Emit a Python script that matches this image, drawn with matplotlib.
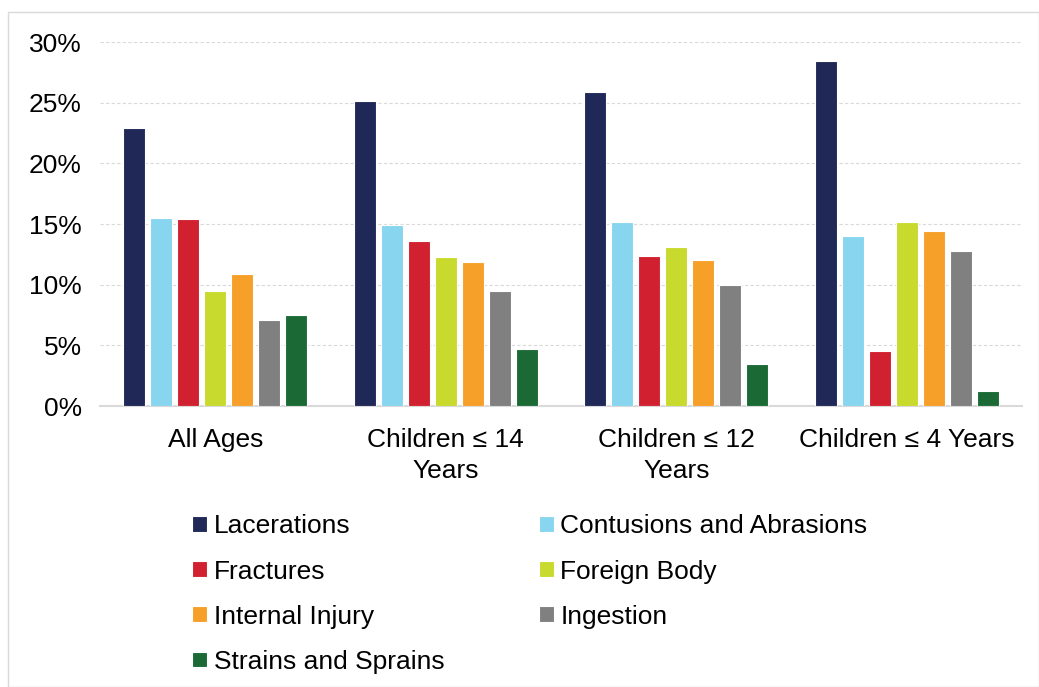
import numpy as np
from matplotlib import pyplot as plt
from matplotlib.patches import Rectangle

plt.rcParams['font.family'] = ['Liberation Sans', 'DejaVu Sans']

groups = ["All Ages", "Children ≤ 14\nYears", "Children ≤ 12\nYears", "Children ≤ 4 Years"]
series = ["Lacerations", "Contusions and Abrasions", "Fractures", "Foreign Body",
          "Internal Injury", "Ingestion", "Strains and Sprains"]
lacerations = [22.9, 25.1, 25.9, 28.4]
contusions = [15.5, 14.9, 15.2, 14.0]
fractures = [15.4, 13.6, 12.4, 4.5]
foreign_body = [9.5, 12.3, 13.1, 15.2]
internal = [10.9, 11.9, 12.0, 14.4]
ingestion = [7.1, 9.5, 10.0, 12.8]
strains = [7.5, 4.7, 3.5, 1.2]
colors = ["#1f2857", "#87d5ef", "#d12130", "#c8da2e", "#f6a02a", "#808080", "#1b6a36"]

values = [lacerations, contusions, fractures, foreign_body, internal, ingestion, strains]

fig = plt.figure(figsize=(10.39, 6.87), dpi=100)
ax = fig.add_axes([100 / 1039, 1 - 406 / 687, 922 / 1039, 364 / 687])

x = np.arange(len(groups))
step = 0.117
width = 0.095
handles = []
for i, (name, vals, c) in enumerate(zip(series, values, colors)):
    h = ax.bar(x + (i - 3) * step, vals, width, color=c, edgecolor="white",
               linewidth=0.8, label=name, zorder=3)
    handles.append(h)

ax.set_xlim(-0.5, 3.5)
ax.set_ylim(0, 30)
ax.set_yticks(range(0, 31, 5))
ax.set_yticklabels([f"{v}%" for v in range(0, 31, 5)], fontsize=19)
ax.set_xticks(x)
ax.set_xticklabels(groups, fontsize=19, linespacing=1.35)
ax.tick_params(length=0)
ax.tick_params(axis="x", pad=16)
ax.tick_params(axis="y", pad=13)
ax.grid(axis="y", color="#d9d9d9", linestyle=(0, (3, 2)), linewidth=0.8, zorder=0)
for s in ["top", "right", "left"]:
    ax.spines[s].set_visible(False)
ax.spines["bottom"].set_color("#d9d9d9")
ax.spines["bottom"].set_linewidth(1.5)

# legend filled row by row
order = [0, 2, 4, 6, 1, 3, 5]
fig.legend([handles[k] for k in order], [series[k] for k in order], ncol=2,
           loc="upper left", bbox_to_anchor=(174 / 1039, 1 - 496 / 687),
           frameon=False, fontsize=19, handlelength=0.55, handleheight=0.55,
           handletextpad=0.25, columnspacing=3.6, labelspacing=0.8,
           borderpad=0.2)

fig.patches.append(Rectangle((8 / 1039, 0), 1 - 8 / 1039, 1 - 12 / 687,
                             transform=fig.transFigure, fill=False,
                             edgecolor="#d9d9d9", linewidth=1))

fig.savefig("out.png", dpi=100)
